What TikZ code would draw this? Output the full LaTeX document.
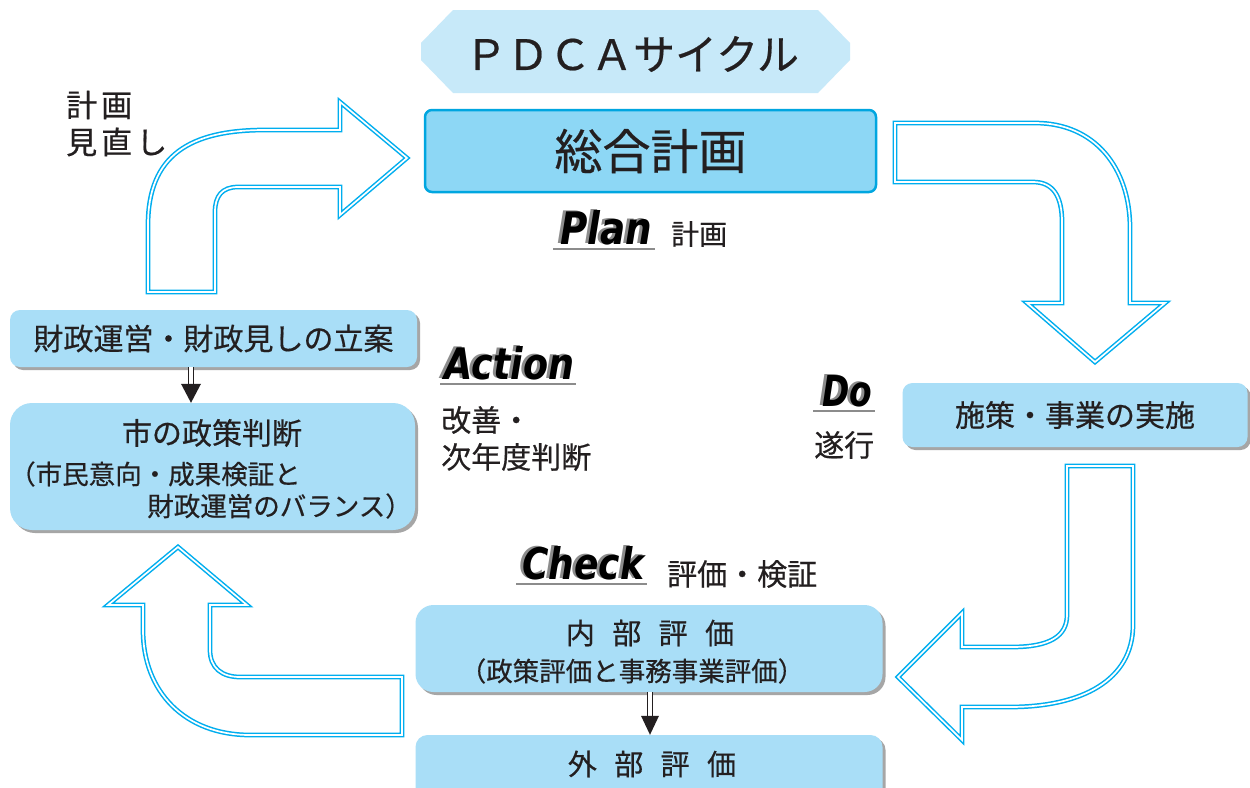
\documentclass[tikz,border=0pt]{standalone}
\usepackage{fontspec}
\setmainfont{Noto Sans CJK JP}[FakeBold=0.5]
\newfontfamily\lblfont{DejaVu Sans}
\usetikzlibrary{shadows}
\definecolor{txt}{HTML}{231F20}
\definecolor{boxfill}{HTML}{A9DEF7}
\definecolor{titlefill}{HTML}{C7E9F9}
\definecolor{planfill}{HTML}{8DD7F5}
\definecolor{planedge}{HTML}{00A6E0}
\definecolor{arrowblue}{HTML}{00AEEF}
\newcommand\fsz[1]{\fontsize{#1}{#1}\selectfont}
\newcommand\gapx{\hspace{0.6em}}
\newcommand\pdcaword[3]{\resizebox{#1pt}{#2pt}{\lblfont\bfseries\itshape #3}}
\begin{document}
\begin{tikzpicture}[x=1pt,y=-1pt,
  every node/.style={inner sep=0pt, text=txt},
  box/.style={rectangle, rounded corners=#1, fill=boxfill, draw=none,
    general shadow={fill=black!35, shadow xshift=3pt, shadow yshift=-3pt}},
  box/.default=10pt,
  bigarrow/.style={fill=white, draw=arrowblue, line width=1.5pt, double=white,
    double distance=1.7pt, line join=miter},
  dblstem/.style={draw=txt, line width=1.4pt, double=white, double distance=3.2pt},
  tip/.style={fill=txt},
  lblshadow/.style={anchor=base west, text=black!45},
  lbltext/.style={anchor=base west, text=black},
  uline/.style={draw=black!45, line width=1.6pt}
]
\useasboundingbox (0,0) rectangle (1250,787);
\fill[white] (0,0) rectangle (1250,787);

% ---------- big arrows ----------
% Action -> Plan
\draw[bigarrow] (148,292) -- (148,225) .. controls (148,155) and (190,130) .. (265,130)
  -- (340,130) -- (340,102) -- (407,158) -- (340,215) -- (340,187) -- (238,187)
  .. controls (222,187) and (215,196) .. (215,212) -- (215,292) -- cycle;
% Plan -> Do
\draw[bigarrow] (895,123) -- (1035,123) .. controls (1095,123) and (1130,168) .. (1130,228)
  -- (1130,303) -- (1165,303) -- (1095,362) -- (1027,303) -- (1062,303) -- (1062,222)
  .. controls (1062,196) and (1053,182) .. (1033,182) -- (895,182) -- cycle;
% Do -> Check
\draw[bigarrow] (1067,466) -- (1133,466) -- (1133,625) .. controls (1133,680) and (1082,707) .. (1010,707)
  -- (962,707) -- (962,740) -- (898,677) -- (962,613) -- (962,647) -- (1012,647)
  .. controls (1050,647) and (1067,636) .. (1067,615) -- cycle;
% Check -> Action
\draw[bigarrow] (402,677) -- (402,735) -- (250,735) .. controls (185,735) and (143,692) .. (143,630)
  -- (143,605) -- (108,605) -- (178,547) -- (247,605) -- (210,605) -- (210,650)
  .. controls (210,668) and (222,677) .. (240,677) -- cycle;

% ---------- title ----------
\fill[titlefill] (453,10) -- (818,10) -- (850,43) -- (850,60) -- (818,93) -- (453,93)
  -- (421,60) -- (421,43) -- cycle;
\node (title) at (632,54) {\fsz{42}ＰＤＣＡサイクル};

% ---------- Plan box ----------
\node[rectangle, rounded corners=7pt, fill=planfill, draw=planedge, line width=2.5pt,
  minimum width=451pt, minimum height=82pt] (plan) at (650.5,151) {\fsz{48}総合計画};

% ---------- left boxes ----------
\node[box, minimum width=407pt, minimum height=57pt] (zaisei) at (213.5,338.5)
  {\fsz{30}財政運営・財政見しの立案};
\node[box=22pt, minimum width=405pt, minimum height=127pt] (seisaku) at (212.5,466.5) {};
\node (s1) at (212,433) {\fsz{30}市の政策判断};
\node[anchor=west] (s2) at (9,474) {\fsz{26.5}（市民意向・成果検証と};
\node[anchor=east] (s3) at (412,506) {\fsz{26.5}財政運営のバランス）};

% ---------- right box ----------
\node[box, minimum width=345pt, minimum height=64pt] (shisaku) at (1075,415)
  {\fsz{30}施策・事業の実施};

% ---------- bottom boxes ----------
\node[box=18pt, minimum width=467pt, minimum height=87pt] (naibu) at (649,648.5) {};
\node (n1) at (650,633) {\fsz{29}内\gapx 部\gapx 評\gapx 価};
\node (n2) at (632,671) {\fsz{26.5}（政策評価と事務事業評価）};
\begin{scope}
\clip (0,0) rectangle (1250,787);
\node[box=12pt, minimum width=467pt, minimum height=66pt] (gaibu) at (649,768) {};
\end{scope}
\node (g1) at (652,764) {\fsz{29}外\gapx 部\gapx 評\gapx 価};

% ---------- small double arrows ----------
\coordinate (ax1) at (191,0);
\coordinate (ax2) at (650,0);
\path (seisaku.north -| ax1) ++(0,-18) coordinate (t1);
\path (gaibu.north -| ax2) ++(0,-18) coordinate (t2);
\draw[dblstem] (zaisei.south -| ax1) -- (t1);
\fill[tip] (seisaku.north -| ax1) -- ++(-10,-19) -- ++(20,0) -- cycle;
\draw[dblstem] (naibu.south -| ax2) -- (t2);
\fill[tip] (gaibu.north -| ax2) -- ++(-9,-19) -- ++(18,0) -- cycle;

% ---------- PDCA labels ----------
\node[lblshadow] at (557,243) {\pdcaword{92}{34}{Plan}};
\node[lbltext] (plbl) at (560,244) {\pdcaword{92}{34}{Plan}};
\draw[uline] (553,249) -- (655,249);
\node[anchor=west] (pj) at (671,234) {\fsz{28}計画};

\node[lblshadow] at (441,378) {\pdcaword{130}{33}{Action}};
\node[lbltext] (albl) at (444,379) {\pdcaword{130}{33}{Action}};
\draw[uline] (440,384) -- (576,384);
\node[anchor=west] (aj1) at (441,420) {\fsz{30}改善・};
\node[anchor=west] (aj2) at (441,457) {\fsz{30}次年度判断};

\node[lblshadow] at (819,405) {\pdcaword{50}{31}{Do}};
\node[lbltext] (dlbl) at (822,406) {\pdcaword{50}{31}{Do}};
\draw[uline] (813,411) -- (875,411);
\node[anchor=west] (dj) at (814,445) {\fsz{30}遂行};

\node[lblshadow] at (519,578) {\pdcaword{122}{33}{Check}};
\node[lbltext] (clbl) at (522,579) {\pdcaword{122}{33}{Check}};
\draw[uline] (516,584) -- (647,584);
\node[anchor=west] (cj) at (667,574) {\fsz{30}評価・検証};

% ---------- top-left labels ----------
\node[anchor=west] (k1) at (66,105) {\fsz{31}計\hspace{4pt}画};
\node[anchor=west] (k2) at (66,142) {\fsz{31}見\hspace{4pt}直\hspace{4pt}し};
\end{tikzpicture}
\end{document}
